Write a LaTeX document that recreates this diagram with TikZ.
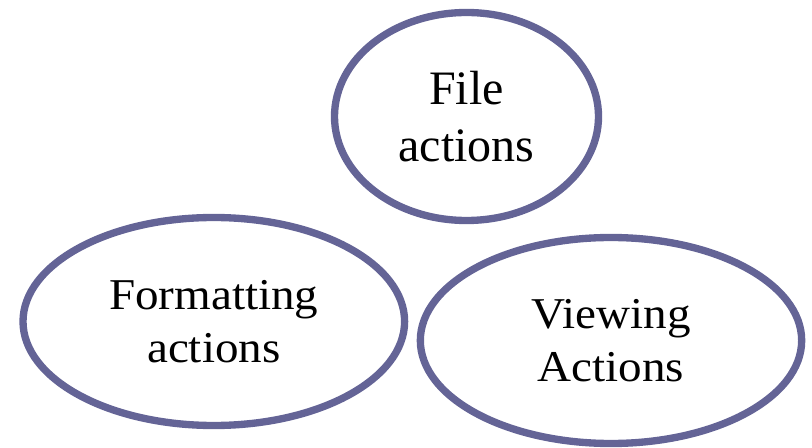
\documentclass[tikz,border=0pt]{standalone}
\usepackage{fontspec}
\setmainfont{Liberation Serif}
\newfontfamily\widerserif[FakeStretch=1.07]{Liberation Serif}
\usetikzlibrary{shapes.geometric}
\definecolor{ringcol}{RGB}{100,100,150}
\tikzset{
  bubble/.style={ellipse, draw=ringcol, line width=5.5pt, inner sep=0pt,
    align=center, text=black},
  bigtext/.style={font=\fontsize{36}{42.75}\selectfont},
  widetext/.style={font=\widerserif\fontsize{33}{40}\selectfont}
}
\begin{document}
\begin{tikzpicture}[x=0.75pt,y=-0.75pt]
  \useasboundingbox (0,0) rectangle (812,448);
  \node[bubble, bigtext, minimum width=198pt, minimum height=156pt]
    (file) at (466.5,116.5) {File\\actions};
  \node[bubble, widetext, minimum width=286.2pt, minimum height=156pt]
    (format) at (213.8,321.5) {Formatting\\actions};
  \node[bubble, widetext, minimum width=286pt, minimum height=154.5pt]
    (view) at (611,340.5) {Viewing\\Actions};
\end{tikzpicture}
\end{document}
